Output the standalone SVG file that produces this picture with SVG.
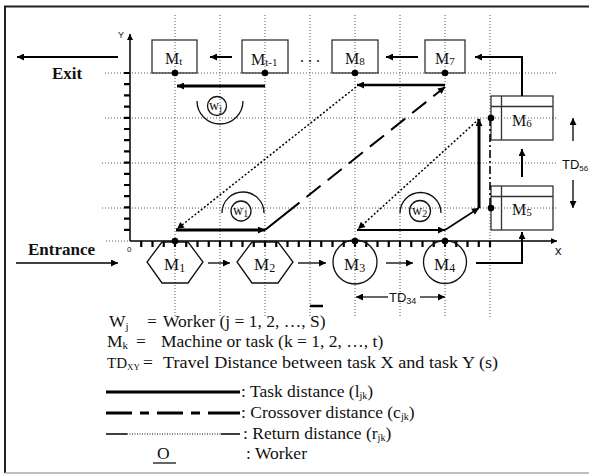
<svg xmlns="http://www.w3.org/2000/svg" width="589" height="476" viewBox="0 0 589 476">
<style>
.grid{fill:none;stroke:#555;stroke-width:1;stroke-dasharray:1 2}
.box{fill:none;stroke:#333;stroke-width:1.3}
.shape{fill:none;stroke:#111;stroke-width:1.3}
.ln{fill:none;stroke:#000}
.serif{font-family:"Liberation Serif","Times New Roman",serif;fill:#111}
.sans{font-family:"Liberation Sans",Arial,sans-serif;fill:#111}
.ml{font-size:16px}
.mb{font-size:17px}
.lg{font-size:17.5px}
.dot{fill:#000}
</style>
<defs>
<marker id="ah" viewBox="0 0 10 10" refX="10" refY="5" markerWidth="10" markerHeight="7" markerUnits="userSpaceOnUse" orient="auto"><path d="M0,0 L10,5 L0,10 z" fill="#000"/></marker>
<marker id="ahs" viewBox="0 0 10 10" refX="10" refY="5" markerWidth="8" markerHeight="6" markerUnits="userSpaceOnUse" orient="auto"><path d="M0,0 L10,5 L0,10 z" fill="#000"/></marker>
</defs>
<rect width="589" height="476" fill="#fff"/>
<!-- frame -->
<path d="M5,473 V6.5 H589" fill="none" stroke="#222" stroke-width="2"/>
<path d="M5,473 H589" fill="none" stroke="#aaa" stroke-width="1.5"/>

<!-- grid -->
<g id="grid">
<path class="grid" d="M175,15V318M220,15V318M265,15V318M310,15V318M355,15V318M400,15V318M445,15V318M490,15V118M490,208V318"/>
<path class="grid" d="M105,73H557M105,118H557M102,163H557M102,208H557M106,241H130"/>
</g>

<!-- axes -->
<g id="axes">
<line class="ln" x1="130" y1="241" x2="130" y2="34" stroke-width="1.5" marker-end="url(#ahs)"/>
<line class="ln" x1="130" y1="241" x2="557" y2="241" stroke-width="1.5" marker-end="url(#ahs)"/>
<path class="ln" stroke-width="2.2" d="M124,73H130M124,84.2H130M124,95.4H130M124,106.6H130M124,117.8H130M124,129H130M124,140.2H130M124,151.4H130M124,162.6H130M124,173.8H130M124,185H130M124,196.2H130M124,207.4H130M124,218.6H130M124,229.8H130"/>
<path class="ln" stroke-width="2.2" d="M141.25,241V247M152.5,241V247M163.75,241V247M175,241V247M186.25,241V247M197.5,241V247M208.75,241V247M220,241V247M231.25,241V247M242.5,241V247M253.75,241V247M265,241V247M276.25,241V247M287.5,241V247M298.75,241V247M310,241V247M321.25,241V247M332.5,241V247M343.75,241V247M355,241V247M366.25,241V247M377.5,241V247M388.75,241V247M400,241V247M411.25,241V247M422.5,241V247M433.75,241V247M445,241V247M456.25,241V247M467.5,241V247M478.75,241V247M490,241V247"/>
<text class="sans" x="118" y="38" font-size="9">Y</text>
<text class="sans" x="555" y="255" font-size="13">x</text>
<text class="sans" x="127" y="252" font-size="8">0</text>
</g>

<!-- nodes -->
<g id="Mt">
<rect class="box" x="152" y="40" width="45" height="33"/>
<text class="serif ml" x="165" y="64">M<tspan font-size="11" dy="1">t</tspan></text>
</g>
<g id="Mt-1">
<rect class="box" x="242" y="40" width="46" height="33"/>
<text class="serif ml" x="251" y="65">M<tspan font-size="11" dy="1">t-1</tspan></text>
</g>
<g id="dots-ellipsis">
<text class="serif" x="300" y="62" font-size="16">. . .</text>
</g>
<g id="M8">
<rect class="box" x="332" y="40" width="46" height="33"/>
<text class="serif ml" x="345" y="64">M<tspan font-size="11" dy="1">8</tspan></text>
</g>
<g id="M7">
<rect class="box" x="425" y="40" width="40" height="33"/>
<text class="serif ml" x="435" y="64">M<tspan font-size="11" dy="1">7</tspan></text>
</g>
<g id="M6">
<rect class="box" x="491" y="96" width="62" height="44"/>
<path class="box" d="M491,106.5H553M501.5,96V140"/>
<text class="serif ml" x="512" y="126">M<tspan font-size="11" dy="1">6</tspan></text>
</g>
<g id="M5">
<rect class="box" x="491" y="186" width="62" height="44"/>
<path class="box" d="M491,196.5H553M501.5,186V230"/>
<text class="serif ml" x="512" y="215">M<tspan font-size="11" dy="1">5</tspan></text>
</g>
<g id="M1">
<polygon class="shape" points="162,242 188,242 203,262 188,283 162,283 147,262"/>
<text class="serif mb" x="164" y="270">M<tspan font-size="12" dy="2">1</tspan></text>
</g>
<g id="M2">
<polygon class="shape" points="252,242 278,242 293,262 278,283 252,283 237,262"/>
<text class="serif mb" x="254" y="270">M<tspan font-size="12" dy="2">2</tspan></text>
</g>
<g id="M3">
<circle class="shape" cx="355" cy="262" r="22"/>
<text class="serif mb" x="344" y="270">M<tspan font-size="12" dy="2">3</tspan></text>
</g>
<g id="M4">
<circle class="shape" cx="445" cy="262" r="21.5"/>
<text class="serif mb" x="434" y="270">M<tspan font-size="12" dy="2">4</tspan></text>
</g>
<g id="Wj">
<circle class="shape" cx="217" cy="106" r="9.5"/>
<path class="shape" d="M197,101 A23,23 0 0 0 243,101"/>
<text class="serif" x="209" y="110" font-size="14">w<tspan font-size="10" dy="2">j</tspan></text>
</g>
<g id="W1">
<circle class="shape" cx="241" cy="211" r="10"/>
<path class="shape" d="M222,213 A21,21 0 0 1 264,213"/>
<text class="serif" x="233" y="215" font-size="14">w<tspan font-size="10" dy="2">1</tspan></text>
</g>
<g id="W2">
<circle class="shape" cx="420" cy="211" r="10.5"/>
<path class="shape" d="M400,213 A20.5,20.5 0 0 1 441,213"/>
<text class="serif" x="412" y="215" font-size="14">w<tspan font-size="10" dy="2">2</tspan></text>
</g>
<g id="exit">
<text class="serif" x="52" y="79" font-size="17" font-weight="bold">Exit</text>
</g>
<g id="entrance">
<text class="serif" x="28" y="255" font-size="17" font-weight="bold">Entrance</text>
</g>

<!-- connectors -->
<g id="connectors">
<line class="ln" x1="118" y1="57" x2="17" y2="57" stroke-width="1.8" marker-end="url(#ah)"/>
<line class="ln" x1="16" y1="263" x2="118" y2="263" stroke-width="1.3" marker-end="url(#ah)"/>
<line class="ln" x1="232" y1="57" x2="210" y2="57" stroke-width="2" marker-end="url(#ah)"/>
<line class="ln" x1="418" y1="57" x2="386" y2="57" stroke-width="2" marker-end="url(#ah)"/>
<polyline class="ln" points="522,96 522,57 475,57" stroke-width="2" marker-end="url(#ah)"/>
<line class="ln" x1="522" y1="177" x2="522" y2="149" stroke-width="2" marker-end="url(#ah)"/>
<polyline class="ln" points="476,263 522,263 522,232" stroke-width="2" marker-end="url(#ah)"/>
<line class="ln" x1="208" y1="263" x2="230" y2="263" stroke-width="1.3" marker-end="url(#ah)"/>
<line class="ln" x1="298" y1="263" x2="326" y2="263" stroke-width="1.3" marker-end="url(#ah)"/>
<line class="ln" x1="386" y1="263" x2="413" y2="263" stroke-width="1.3" marker-end="url(#ah)"/>
<!-- TD arrows -->
<line class="ln" x1="388" y1="297" x2="356" y2="297" stroke-width="1.2" marker-end="url(#ah)"/>
<line class="ln" x1="420" y1="297" x2="445" y2="297" stroke-width="1.2" marker-end="url(#ah)"/>
<text class="sans" x="389" y="302" font-size="13">TD<tspan font-size="9" dy="2">34</tspan></text>
<line class="ln" x1="573" y1="141" x2="573" y2="118" stroke-width="1.3" marker-end="url(#ah)"/>
<line class="ln" x1="573" y1="180" x2="573" y2="208" stroke-width="1.3" marker-end="url(#ah)"/>
<text class="sans" x="562" y="169" font-size="13">TD<tspan font-size="8" dy="2">56</tspan></text>
<!-- worker task paths -->
<line class="ln" x1="265" y1="86" x2="177" y2="86" stroke-width="3" marker-end="url(#ah)"/>
<line class="ln" x1="445" y1="85" x2="357" y2="85" stroke-width="2.5" marker-end="url(#ah)"/>
<line class="ln" x1="176" y1="230" x2="265" y2="230" stroke-width="3" marker-end="url(#ah)"/>
<line class="ln" x1="357" y1="230" x2="445" y2="230" stroke-width="2" marker-end="url(#ah)"/>
<line class="ln" x1="445" y1="230" x2="479" y2="208" stroke-width="1.5" marker-end="url(#ah)"/>
<line class="ln" x1="479" y1="208" x2="479" y2="119" stroke-width="3" marker-end="url(#ah)"/>
<line class="ln" x1="265" y1="230" x2="445" y2="87" stroke-width="2" stroke-dasharray="44 9 18 9 18 9 18 9 18 9 18 9 18 9 40" marker-end="url(#ah)"/>
<line class="ln" x1="356" y1="87" x2="177" y2="229" stroke-width="1.5" stroke-dasharray="2 2" marker-end="url(#ah)"/>
<line class="ln" x1="479" y1="119" x2="358" y2="229" stroke-width="1.5" stroke-dasharray="2 2" marker-end="url(#ah)"/>
<line class="ln" x1="490" y1="118" x2="490" y2="208" stroke-width="1.6" stroke-dasharray="8 3 2 3"/>
<!-- dots -->
<circle class="dot" cx="175" cy="73" r="3.3"/>
<circle class="dot" cx="265" cy="73" r="3.3"/>
<circle class="dot" cx="355" cy="73" r="3.3"/>
<circle class="dot" cx="445" cy="73" r="3.3"/>
<circle class="dot" cx="491" cy="118" r="3.3"/>
<circle class="dot" cx="491" cy="208" r="3.3"/>
<circle class="dot" cx="175" cy="241" r="3.3"/>
<circle class="dot" cx="355" cy="241" r="3.3"/>
<circle class="dot" cx="445" cy="241" r="3.3"/>
</g>

<!-- legend -->
<g id="legend">
<text class="serif lg" x="109" y="327">W<tspan font-size="11" dy="3">j</tspan></text>
<text class="serif lg" x="147" y="327">=</text>
<text class="serif lg" x="163" y="327">Worker (j = 1, 2, …, S)</text>
<line x1="310" y1="306" x2="323" y2="306" stroke="#000" stroke-width="2.5"/>
<text class="serif lg" x="107" y="347">M<tspan font-size="11" dy="2">k</tspan></text>
<text class="serif lg" x="136" y="347">=</text>
<text class="serif lg" x="161" y="347">Machine or task (k = 1, 2, …, t)</text>
<text class="serif" x="107" y="368" font-size="15">TD<tspan font-size="9" dy="2">XY</tspan></text>
<text class="serif lg" x="143" y="368">=</text>
<text class="serif lg" x="163" y="368" textLength="335" lengthAdjust="spacingAndGlyphs">Travel Distance between task X and task Y (s)</text>
<line x1="106" y1="392" x2="240" y2="392" stroke="#000" stroke-width="3"/>
<text class="serif lg" x="241" y="397">: Task distance (l<tspan font-size="10" dy="2">jk</tspan><tspan dy="-2">)</tspan></text>
<path d="M106,413H132M140,413H149M157,413H183M191,413H200M208,413H240" stroke="#000" stroke-width="3" fill="none"/>
<text class="serif lg" x="241" y="418">: Crossover distance (c<tspan font-size="10" dy="2">jk</tspan><tspan dy="-2">)</tspan></text>
<path d="M106,434H127M221,434H240" stroke="#000" stroke-width="1.5" fill="none"/>
<path d="M127,434H221" stroke="#000" stroke-width="1.2" stroke-dasharray="1 1.5" fill="none"/>
<text class="serif lg" x="243" y="439">: Return distance (r<tspan font-size="10" dy="2">jk</tspan><tspan dy="-2">)</tspan></text>
<text class="serif lg" x="157" y="459">O</text>
<line x1="153" y1="463" x2="176" y2="463" stroke="#000" stroke-width="1.2"/>
<text class="serif lg" x="246" y="459">: Worker</text>
</g>
</svg>
